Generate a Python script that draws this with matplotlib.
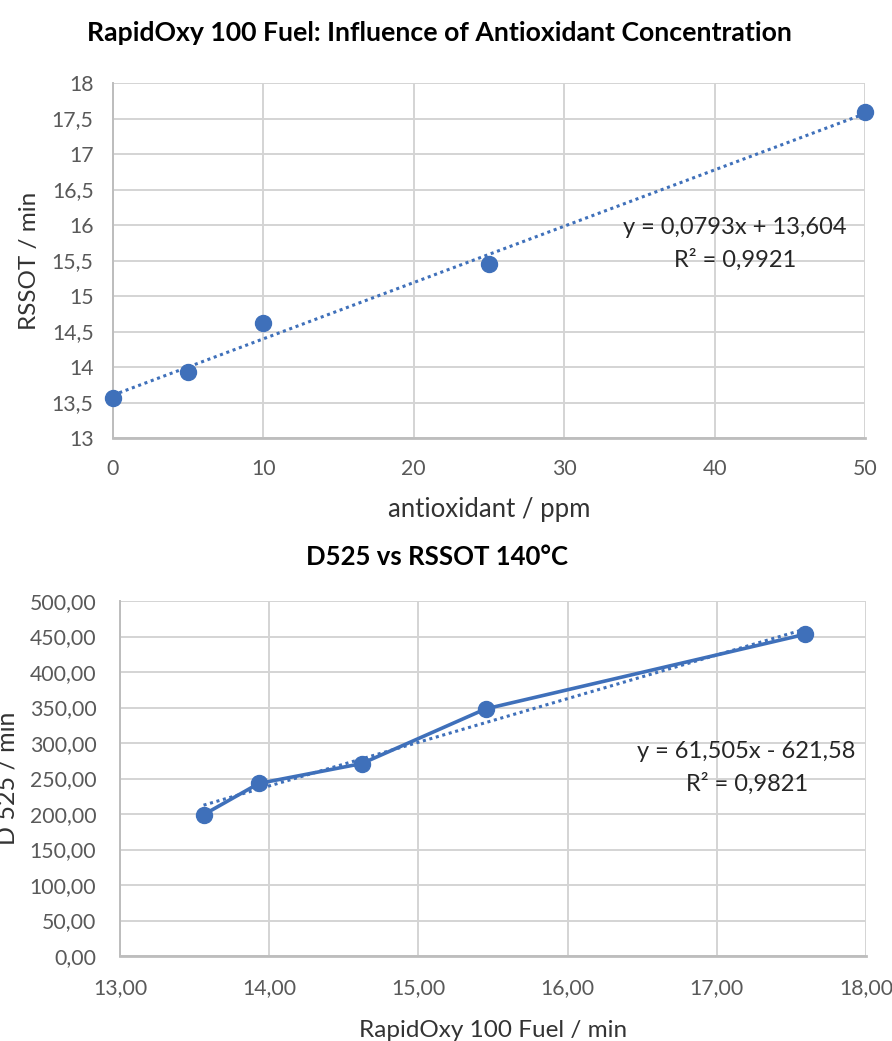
import matplotlib as mpl
import matplotlib.pyplot as plt
import numpy as np

mpl.rcParams['font.family'] = ['Lato', 'DejaVu Sans']

# data
antioxidant_ppm = [0, 5, 10, 25, 50]
rssot_min = [13.56, 13.93, 14.62, 15.45, 17.59]
d525_min = [199, 243, 271, 348, 453]

fit1 = (0.0793, 13.604)  # slope, intercept shown on top chart
fit2 = (61.505, -621.58)

top_title = 'RapidOxy 100 Fuel: Influence of Antioxidant Concentration'
bottom_title = 'D525 vs RSSOT 140°C'
top_eq = ['y = 0,0793x + 13,604', 'R² = 0,9921']
bottom_eq = ['y = 61,505x - 621,58', 'R² = 0,9821']

blue = '#3F70BA'
grid_c = '#D4D4D4'
axis_c = '#BDBDBD'
tick_c = '#595959'
label_c = '#333333'

W, H = 892, 1041


def comma(fmt):
    return mpl.ticker.FuncFormatter(lambda v, p: fmt.format(v).replace('.', ','))


def style(ax):
    for s in ('top', 'right'):
        ax.spines[s].set_visible(False)
    ax.spines['left'].set_color(axis_c)
    ax.spines['left'].set_linewidth(1.4)
    ax.spines['bottom'].set_color(axis_c)
    ax.spines['bottom'].set_linewidth(2.0)
    ax.grid(True, color=grid_c, linewidth=1.4)
    ax.set_axisbelow(True)
    ax.tick_params(length=0, labelsize=15.3, colors=tick_c)


fig = plt.figure(figsize=(W / 100, H / 100), dpi=100)
ax1 = fig.add_axes([113 / W, 1 - 438 / H, 752 / W, 355 / H])
ax2 = fig.add_axes([120 / W, 1 - 956 / H, 746 / W, 355 / H])

# top chart
x = np.array(antioxidant_ppm)
ax1.plot(x, fit1[0] * x + fit1[1], linestyle=(0, (1, 1.2)), color=blue, linewidth=2.2, zorder=2)
ax1.plot(x, rssot_min, 'o', color=blue, markersize=11.5, zorder=3, clip_on=False)
ax1.set_xlim(0, 50)
ax1.set_ylim(13, 18)
ax1.set_xticks(np.arange(0, 51, 10))
ax1.set_yticks(np.arange(13, 18.01, 0.5))
ax1.yaxis.set_major_formatter(comma('{:g}'))
style(ax1)
ax1.tick_params(axis='y', pad=14)
ax1.tick_params(axis='x', pad=15)
ax1.set_xlabel('antioxidant / ppm', fontsize=18.5, color=label_c, labelpad=13)
ax1.set_ylabel('RSSOT / min', fontsize=17.5, color=label_c)
ax1.yaxis.set_label_coords(-0.097, 0.5)
ax1.text(0.827, 0.592, top_eq[0], transform=ax1.transAxes, ha='center', va='center', fontsize=17, color='#262626')
ax1.text(0.827, 0.502, top_eq[1], transform=ax1.transAxes, ha='center', va='center', fontsize=17, color='#262626')
fig.text(439 / W, 1 - 33 / H, top_title, ha='center', va='center', fontsize=19.2, fontweight='bold')

# bottom chart
xs = np.array([min(rssot_min), max(rssot_min)])
ax2.plot(xs, fit2[0] * xs + fit2[1], linestyle=(0, (1, 1.2)), color=blue, linewidth=2.2, zorder=2)
ax2.plot(rssot_min, d525_min, '-o', color=blue, linewidth=2.6, markersize=11.5, zorder=3)
ax2.set_xlim(13, 18)
ax2.set_ylim(0, 500)
ax2.set_xticks(np.arange(13, 18.01, 1))
ax2.set_yticks(np.arange(0, 501, 50))
ax2.xaxis.set_major_formatter(comma('{:.2f}'))
ax2.yaxis.set_major_formatter(comma('{:.2f}'))
style(ax2)
ax2.tick_params(axis='y', pad=17)
ax2.tick_params(axis='x', pad=16)
ax2.set_xlabel('RapidOxy 100 Fuel / min', fontsize=17.5, color=label_c, labelpad=16)
ax2.set_ylabel('D 525 / min', fontsize=18, color=label_c)
ax2.yaxis.set_label_coords(-0.136, 0.5)
ax2.text(0.840, 0.575, bottom_eq[0], transform=ax2.transAxes, ha='center', va='center', fontsize=17, color='#262626')
ax2.text(0.840, 0.485, bottom_eq[1], transform=ax2.transAxes, ha='center', va='center', fontsize=17, color='#262626')
fig.text(437 / W, 1 - 557 / H, bottom_title, ha='center', va='center', fontsize=18.5, fontweight='bold')

fig.savefig('out.png', dpi=100)
